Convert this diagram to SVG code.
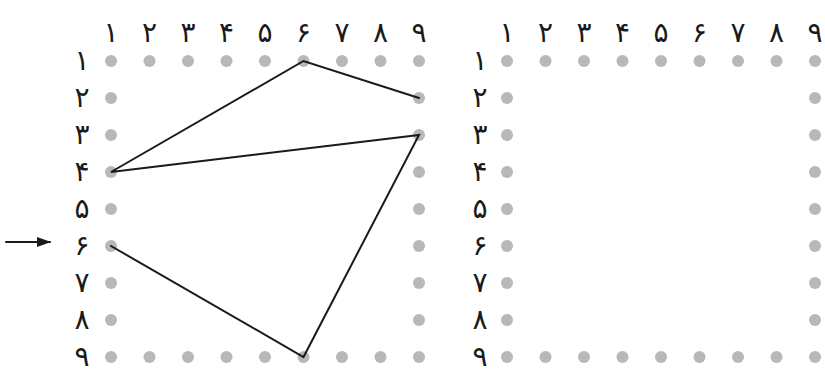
<svg xmlns="http://www.w3.org/2000/svg" width="825" height="369" viewBox="0 0 825 369">
<defs>
<style>
.d{fill:#b8b8b8}
.t{font-family:"DejaVu Sans",sans-serif;font-size:28px;fill:#1a1a1a;text-anchor:middle}
.c{stroke:#1a1a1a;stroke-width:2;fill:none;stroke-linecap:round}
</style>
<marker id="ah" markerWidth="14" markerHeight="10" refX="13" refY="5" orient="auto" markerUnits="userSpaceOnUse"><path d="M0,0L14,5L0,10z" fill="#1a1a1a"/></marker>
<g id="cols" class="t">
<text x="0" y="0">۱</text><text x="38.5" y="0">۲</text><text x="77" y="0">۳</text><text x="115.5" y="0">۴</text><text x="154" y="0">۵</text><text x="192.5" y="0">۶</text><text x="231" y="0">۷</text><text x="269.5" y="0">۸</text><text x="308" y="0">۹</text>
</g>
<g id="rows" class="t">
<text x="0" y="0">۱</text><text x="0" y="37">۲</text><text x="0" y="74">۳</text><text x="0" y="111">۴</text><text x="0" y="148">۵</text><text x="0" y="185">۶</text><text x="0" y="222">۷</text><text x="0" y="259">۸</text><text x="0" y="296">۹</text>
</g>
<g id="dots" class="d">
<circle cx="0" cy="0" r="6"/><circle cx="38.5" cy="0" r="6"/><circle cx="77" cy="0" r="6"/><circle cx="115.5" cy="0" r="6"/><circle cx="154" cy="0" r="6"/><circle cx="192.5" cy="0" r="6"/><circle cx="231" cy="0" r="6"/><circle cx="269.5" cy="0" r="6"/><circle cx="308" cy="0" r="6"/>
<circle cx="0" cy="37" r="6"/><circle cx="0" cy="74" r="6"/><circle cx="0" cy="111" r="6"/><circle cx="0" cy="148" r="6"/><circle cx="0" cy="185" r="6"/><circle cx="0" cy="222" r="6"/><circle cx="0" cy="259" r="6"/>
<circle cx="308" cy="37" r="6"/><circle cx="308" cy="74" r="6"/><circle cx="308" cy="111" r="6"/><circle cx="308" cy="148" r="6"/><circle cx="308" cy="185" r="6"/><circle cx="308" cy="222" r="6"/><circle cx="308" cy="259" r="6"/>
<circle cx="0" cy="296" r="6"/><circle cx="38.5" cy="296" r="6"/><circle cx="77" cy="296" r="6"/><circle cx="115.5" cy="296" r="6"/><circle cx="154" cy="296" r="6"/><circle cx="192.5" cy="296" r="6"/><circle cx="231" cy="296" r="6"/><circle cx="269.5" cy="296" r="6"/><circle cx="308" cy="296" r="6"/>
</g>
</defs>
<rect width="825" height="369" fill="#fff"/>
<g id="grid-left">
<use href="#cols" x="111" y="42"/>
<use href="#rows" x="82" y="70"/>
<use href="#dots" x="111" y="61"/>
</g>
<g id="grid-right">
<use href="#cols" x="507" y="42"/>
<use href="#rows" x="480" y="70"/>
<use href="#dots" x="507" y="61"/>
</g>
<g id="connectors">
<path class="c" d="M419,98L303.5,61L111,172L419,135L303.5,357L111,246"/>
<path class="c" d="M6,242L50,242" marker-end="url(#ah)"/>
</g>
</svg>
